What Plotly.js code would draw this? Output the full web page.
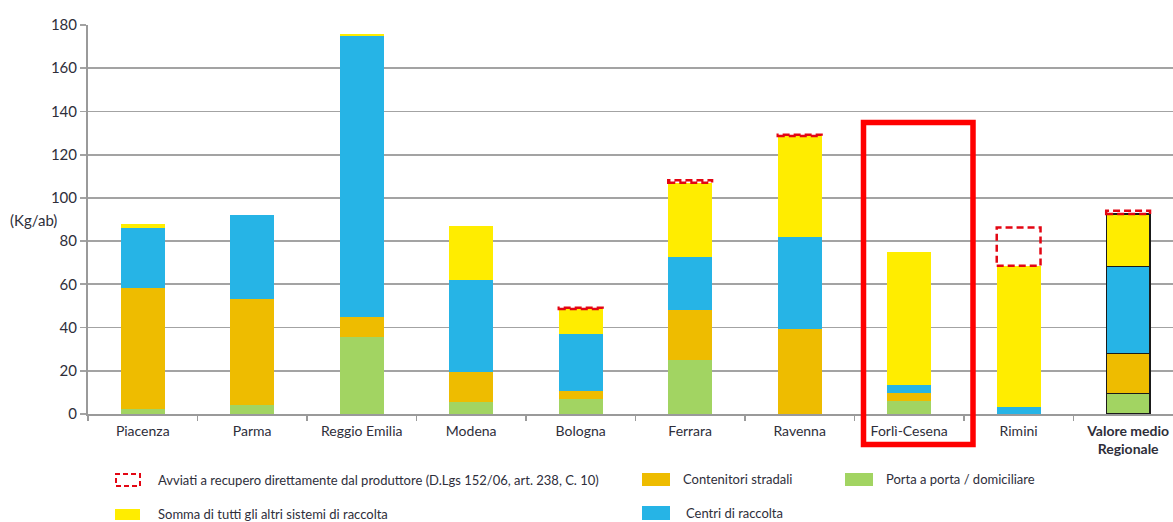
<!DOCTYPE html>
<html>
<head>
<meta charset="utf-8">
<script src="https://cdn.plot.ly/plotly-3.0.1.min.js"></script>
<style>
  html, body { margin: 0; padding: 0; background: #fff; }
  #chart { width: 1173px; height: 522px; }
</style>
</head>
<body>
<div id="chart"></div>
<script>
// Raccolta per provincia (Kg/ab), by collection system
const categories = ['Piacenza', 'Parma', 'Reggio Emilia', 'Modena', 'Bologna', 'Ferrara',
                    'Ravenna', 'Forlì-Cesena', 'Rimini', '<b>Valore medio<br>Regionale</b>'];
const portaAPorta = [2.3, 4.0, 35.5, 5.7, 6.8, 25.0, 0, 5.9, 0, 9.4];
const contenitori = [56.1, 49.2, 9.2, 13.6, 4.0, 23.1, 39.5, 4.0, 0, 18.7];
const centri      = [27.8, 38.8, 130.4, 42.7, 26.2, 24.6, 42.2, 3.4, 3.1, 40.2];
const altri       = [1.7, 0.3, 0.9, 24.8, 11.6, 34.3, 46.9, 61.6, 65.5, 24.2];
const avviati     = [0, 0, 0, 0, 0.6, 1.2, 0.6, 0, 17.7, 1.5];

const legendLabels = {
  avviati: 'Avviati a recupero direttamente dal produttore (D.Lgs 152/06, art. 238, C. 10)',
  altri: 'Somma di tutti gli altri sistemi di raccolta',
  contenitori: 'Contenitori stradali',
  centri: 'Centri di raccolta',
  porta: 'Porta a porta / domiciliare'
};

const COL = { green: '#a2d462', orange: '#eebc00', blue: '#26b4e6', yellow: '#ffed00', red: '#e30613' };
const FONT = "Lato, 'Open Sans', sans-serif";
const TXT = '#2e2e3a';

const M = { l: 88, r: 0, t: 25, b: 108 };
const W = 1173, H = 522;
const PW = W - M.l - M.r, PH = H - M.t - M.b;
const px = v => (v - M.l) / PW;
const py = v => (H - M.b - v) / PH;

const lastIdx = categories.length - 1;
const edgeColor = categories.map((c, i) => i === lastIdx ? '#1a1a1a' : 'rgba(0,0,0,0)');
const edgeWidth = categories.map((c, i) => i === lastIdx ? 1.3 : 0);

function barTrace(values, color, name) {
  return {
    type: 'bar', x: categories, y: values, name: name, width: 0.4,
    marker: { color: color, line: { color: edgeColor, width: edgeWidth } },
    showlegend: false, hoverinfo: 'x+y+name'
  };
}

const data = [
  barTrace(portaAPorta, COL.green, legendLabels.porta),
  barTrace(contenitori, COL.orange, legendLabels.contenitori),
  barTrace(centri, COL.blue, legendLabels.centri),
  barTrace(altri, COL.yellow, legendLabels.altri)
];

const shapes = [];
// dashed boxes for the quantities sent directly to recovery, stacked on top
avviati.forEach((v, i) => {
  if (v <= 0) return;
  const base = portaAPorta[i] + contenitori[i] + centri[i] + altri[i];
  shapes.push({
    type: 'rect', xref: 'x', yref: 'y', x0: i - 0.2, x1: i + 0.2, y0: base, y1: base + v,
    line: { color: COL.red, width: 2.5, dash: '7px,4px' }, fillcolor: 'rgba(0,0,0,0)', layer: 'above'
  });
});

// highlight frame around Forlì-Cesena
shapes.push({
  type: 'rect', xref: 'paper', yref: 'paper',
  x0: px(863.5), x1: px(973), y0: py(444.5), y1: py(122.5),
  line: { color: '#ff0000', width: 5.5 }, fillcolor: 'rgba(0,0,0,0)', layer: 'above'
});

// legend swatches
function swatch(x0, x1, y0, y1, fill, line) {
  shapes.push({
    type: 'rect', xref: 'paper', yref: 'paper', x0: px(x0), x1: px(x1), y0: py(y1), y1: py(y0),
    fillcolor: fill, line: line || { width: 0 }
  });
}
swatch(116, 140, 474, 486, 'rgba(0,0,0,0)', { color: COL.red, width: 2, dash: '5px,3px' });
swatch(115, 140, 509, 520, COL.yellow);
swatch(642, 670, 473, 486, COL.orange);
swatch(642, 670, 506, 520, COL.blue);
swatch(845, 873, 473, 486, COL.green);

const annotations = [];
function label(text, x, y) {
  annotations.push({
    text: text, xref: 'paper', yref: 'paper', x: px(x), y: py(y),
    xanchor: 'left', yanchor: 'middle', showarrow: false,
    font: { family: FONT, size: 13, color: TXT }
  });
}
label(legendLabels.avviati, 156, 480);
label(legendLabels.altri, 156, 514);
label(legendLabels.contenitori, 681, 479);
label(legendLabels.centri, 684, 513);
label(legendLabels.porta, 884, 479);

annotations.push({
  text: '(Kg/ab)', xref: 'paper', yref: 'paper', x: px(33), y: py(220),
  xanchor: 'center', yanchor: 'middle', showarrow: false,
  font: { family: FONT, size: 15, color: TXT }
});

const layout = {
  width: W, height: H, autosize: false,
  margin: M,
  paper_bgcolor: '#fff', plot_bgcolor: '#fff',
  barmode: 'stack',
  font: { family: FONT, size: 14, color: TXT },
  xaxis: {
    type: 'category', range: [-0.5, 9.41],
    showgrid: false, zeroline: false,
    showline: true, linecolor: '#9a9a9a', linewidth: 2,
    ticks: 'outside', tickson: 'boundaries', ticklen: 5, tickcolor: '#9a9a9a', tickwidth: 1.5,
    tickangle: 0,
    tickfont: { family: FONT, size: 14, color: TXT },
    ticklabelstandoff: 3,
    fixedrange: true
  },
  yaxis: {
    range: [0, 180], dtick: 20, tick0: 0,
    showgrid: true, gridcolor: '#a3a3a3', gridwidth: 1.8,
    zeroline: false,
    showline: true, linecolor: '#9a9a9a', linewidth: 2,
    ticks: 'outside', ticklen: 6, tickcolor: '#a3a3a3', tickwidth: 1.8,
    tickfont: { family: FONT, size: 15, color: TXT },
    fixedrange: true
  },
  shapes: shapes,
  annotations: annotations,
  showlegend: false
};

Plotly.newPlot('chart', data, layout, { displayModeBar: false, staticPlot: true });
</script>
</body>
</html>
